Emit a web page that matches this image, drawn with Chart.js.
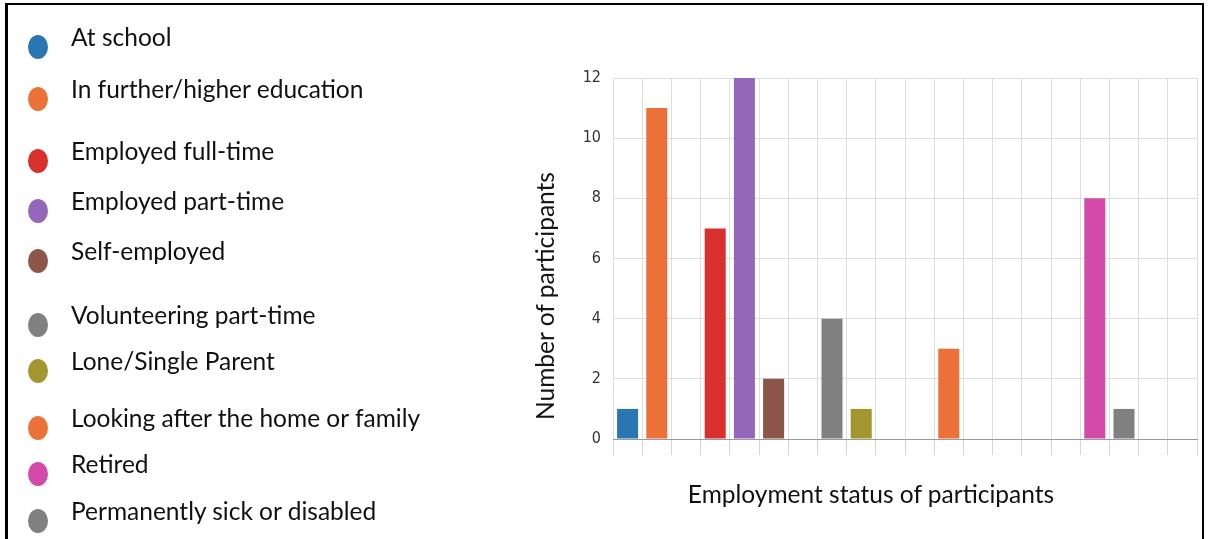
<!DOCTYPE html>
<html>
<head>
<meta charset="utf-8">
<script src="https://cdn.jsdelivr.net/npm/chart.js@4.4.1/dist/chart.umd.min.js"></script>
<style>
  html, body { margin: 0; padding: 0; background: #fff; }
  body { width: 1213px; height: 539px; position: relative; overflow: hidden; font-family: Lato, 'Open Sans', sans-serif; }
  #frame { position: absolute; left: 5px; top: 3px; width: 1199px; height: 560px; border: 2px solid #000; border-left-width: 3px; box-sizing: border-box; }
  #chart { position: absolute; left: 0; top: 0; }
  #legend { position: absolute; left: 0; top: 0; margin: 0; padding: 0; list-style: none; }
  #legend li { position: absolute; left: 0; width: 460px; height: 30px; }
  #legend .dot { position: absolute; left: 28px; top: 13px; width: 20px; height: 24px; border-radius: 50%; }
  #legend .txt { position: absolute; left: 71px; top: 0; font-size: 24.5px; color: #111; white-space: nowrap; line-height: 30px; }
  .axis-title { position: absolute; font-size: 24.5px; color: #111; white-space: nowrap; line-height: 30px; }
  #ytitle { left: 545px; top: 296px; transform: translate(-50%, -50%) rotate(-90deg); }
  #xtitle { left: 871px; top: 494px; transform: translate(-50%, -50%); }
</style>
</head>
<body>
<div id="frame"></div>
<canvas id="chart" width="1213" height="539"></canvas>
<ul id="legend"></ul>
<div id="ytitle" class="axis-title">Number of participants</div>
<div id="xtitle" class="axis-title">Employment status of participants</div>
<script>
const categories = [
  'At school',
  'In further/higher education',
  'Employed full-time',
  'Employed part-time',
  'Self-employed',
  'Volunteering part-time',
  'Lone/Single Parent',
  'Looking after the home or family',
  'Retired',
  'Permanently sick or disabled'
];
const counts = [1, 11, 7, 12, 2, 4, 1, 3, 8, 1];
// which of the 20 x slots each category's bar sits in
const slots = [0, 1, 3, 4, 5, 7, 8, 11, 16, 17];
const slotCount = 20;
const colours = ['#2a76b3', '#ec7138', '#d8302d', '#9567bb', '#8c564b', '#808080', '#a3962f', '#ec7138', '#d44aa8', '#808080'];
const yTicks = [0, 2, 4, 6, 8, 10, 12];

// legend rows are hand placed, so their spacing is a bit uneven
const legendRowTops = [22, 74, 136, 186, 236, 300, 346, 403, 449, 496];

const values = new Array(slotCount).fill(null);
const barColours = new Array(slotCount).fill('transparent');
slots.forEach((s, i) => { values[s] = counts[i]; barColours[s] = colours[i]; });

const legendEl = document.getElementById('legend');
categories.forEach((c, i) => {
  const li = document.createElement('li');
  li.style.top = legendRowTops[i] + 'px';
  li.innerHTML = `<span class="dot" style="background:${colours[i]}"></span><span class="txt">${c}</span>`;
  legendEl.appendChild(li);
});

const tickFont = { family: "'Liberation Sans Narrow', 'DejaVu Sans Condensed', sans-serif", size: 16 };

new Chart(document.getElementById('chart'), {
  type: 'bar',
  data: {
    labels: new Array(slotCount).fill(''),
    datasets: [{
      data: values,
      backgroundColor: barColours,
      categoryPercentage: 1,
      barPercentage: 0.72
    }]
  },
  options: {
    responsive: false,
    devicePixelRatio: 1,
    animation: false,
    layout: { padding: { left: 528, top: 78, right: 16, bottom: 28 } },
    plugins: { legend: { display: false }, tooltip: { enabled: false } },
    scales: {
      x: {
        grid: { color: '#dedede', offset: true, tickLength: 16, tickColor: '#d6d6d6' },
        border: { color: '#9a9a9a' },
        ticks: { display: false },
        afterFit: s => { s.height = 72; }
      },
      y: {
        min: 0,
        max: 12,
        afterBuildTicks: s => { s.ticks = yTicks.map(v => ({ value: v })); },
        grid: { color: '#dedede', drawTicks: false },
        border: { display: false },
        ticks: { font: tickFont, color: '#333', padding: 12 },
        afterFit: s => { s.width = 85; }
      }
    }
  }
});
</script>
</body>
</html>
